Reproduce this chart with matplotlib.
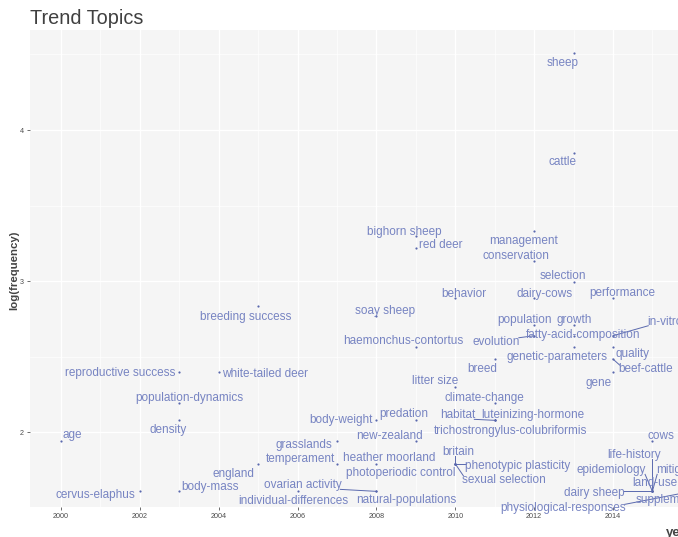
import numpy as np
import matplotlib.pyplot as plt
from matplotlib.ticker import MultipleLocator

plt.rcParams['font.family'] = ['Liberation Sans', 'DejaVu Sans']

# topic, median year, term frequency
terms = ['sheep', 'cattle', 'management', 'bighorn sheep', 'red deer', 'conservation',
         'selection', 'behavior', 'dairy-cows', 'performance', 'breeding success',
         'soay sheep', 'population', 'growth', 'evolution', 'fatty-acid-composition',
         'in-vitro', 'haemonchus-contortus', 'genetic-parameters', 'quality', 'breed',
         'beef-cattle', 'reproductive success', 'white-tailed deer', 'gene', 'litter size',
         'population-dynamics', 'climate-change', 'density', 'body-weight', 'predation',
         'habitat', 'luteinizing-hormone', 'trichostrongylus-colubriformis', 'age',
         'grasslands', 'new-zealand', 'cows', 'england', 'temperament', 'heather moorland',
         'britain', 'photoperiodic control', 'phenotypic plasticity', 'sexual selection',
         'cervus-elaphus', 'body-mass', 'individual-differences', 'ovarian activity',
         'natural-populations', 'life-history', 'epidemiology', 'mitigation', 'land-use',
         'dairy sheep', 'supplementation', 'physiological-responses']
years = [2013, 2013, 2012, 2009, 2009, 2012,
         2013, 2010, 2012, 2014, 2005,
         2008, 2012, 2013, 2012, 2013,
         2014, 2009, 2013, 2014, 2011,
         2014, 2003, 2004, 2014, 2010,
         2003, 2011, 2003, 2008, 2009,
         2011, 2011, 2011, 2000,
         2007, 2009, 2015, 2005, 2007, 2008,
         2010, 2010, 2010, 2010,
         2002, 2003, 2006, 2008,
         2008, 2015, 2015, 2015, 2015,
         2015, 2016, 2016]
freqs = [91, 47, 28, 27, 25, 23,
         20, 18, 18, 18, 17,
         16, 15, 15, 14, 14,
         14, 13, 13, 13, 12,
         12, 11, 11, 11, 10,
         9, 9, 8, 8, 8,
         8, 8, 8, 7,
         7, 7, 7, 6, 6, 6,
         6, 6, 6, 6,
         5, 5, 5, 5,
         5, 5, 5, 5, 5,
         5, 5, 5]

# label offsets from each point, in pixels (right, down)
label_offset = {
    'sheep': (-11, 9), 'cattle': (-11, 8), 'management': (-11, 9),
    'bighorn sheep': (-12, -5), 'red deer': (25, -4), 'conservation': (-18, -6),
    'selection': (-11, -7), 'behavior': (9, -5), 'dairy-cows': (10, -5),
    'performance': (9, -6), 'breeding success': (-12, 10), 'soay sheep': (9, -6),
    'population': (-10, -6), 'growth': (1, -6), 'evolution': (-38, 5),
    'fatty-acid-composition': (10, -2), 'in-vitro': (52, -15),
    'haemonchus-contortus': (-13, -7), 'genetic-parameters': (-17, 9),
    'quality': (20, 6), 'breed': (-12, 9), 'beef-cattle': (33, 9),
    'reproductive success': (-59, 0), 'white-tailed deer': (46, 1),
    'gene': (-14, 10), 'litter size': (-20, -7), 'population-dynamics': (10, -6),
    'climate-change': (-10, -6), 'density': (-11, 9), 'body-weight': (-35, -1),
    'predation': (-12, -7), 'habitat': (-37, -6), 'luteinizing-hormone': (38, -6),
    'trichostrongylus-colubriformis': (16, 10), 'age': (11, -7),
    'grasslands': (-33, 3), 'new-zealand': (-26, -6), 'cows': (9, -6),
    'england': (-25, 9), 'temperament': (-37, -6), 'heather moorland': (13, -7),
    'britain': (3, -13), 'photoperiodic control': (-55, 8),
    'phenotypic plasticity': (62, 1), 'sexual selection': (49, 15),
    'cervus-elaphus': (-44, 3), 'body-mass': (31, -5),
    'individual-differences': (-4, 9), 'ovarian activity': (-74, -7),
    'natural-populations': (30, 8), 'life-history': (-18, -37),
    'epidemiology': (-41, -22), 'mitigation': (29, -22), 'land-use': (2, -9),
    'dairy sheep': (-58, 1), 'supplementation': (-13, 8),
    'physiological-responses': (-129, 16),
}
with_segment = {'evolution', 'in-vitro', 'habitat', 'luteinizing-hormone', 'britain',
                'phenotypic plasticity', 'sexual selection', 'ovarian activity',
                'life-history', 'epidemiology', 'mitigation', 'dairy sheep',
                'physiological-responses', 'beef-cattle'}

label_col = '#7784c2'
seg_col = '#5a69ae'

W, H = 678, 537
fig = plt.figure(figsize=(W / 100, H / 100), dpi=100)
# panel runs past the right edge of the canvas
left, top, bottom, right = 30, 30, 506.7, 693
ax = fig.add_axes([left / W, 1 - bottom / H, (right - left) / W, (bottom - top) / H])
ax.set_facecolor('#f5f5f5')
for s in ax.spines.values():
    s.set_visible(False)

ax.set_xlim(1999.214, 2016.03)
ax.set_ylim(1.508, 4.662)
ax.xaxis.set_major_locator(MultipleLocator(2))
ax.xaxis.set_minor_locator(MultipleLocator(1))
ax.yaxis.set_major_locator(MultipleLocator(1))
ax.yaxis.set_minor_locator(MultipleLocator(0.5))
ax.grid(which='major', color='white', linewidth=1.0)
ax.grid(which='minor', color='white', linewidth=0.5)
ax.set_axisbelow(True)
ax.tick_params(which='major', length=2.5, width=0.6, color='#555555',
               labelsize=5.2, labelcolor='#4d4d4d', pad=2)
ax.tick_params(which='minor', length=0)
ax.xaxis.set_major_formatter(plt.FuncFormatter(lambda v, p: f'{int(v)}'))
ax.yaxis.set_major_formatter(plt.FuncFormatter(lambda v, p: f'{int(v)}'))

logf = np.log(freqs)
ax.scatter(years, logf, s=2.5, color='#5a68ad', linewidths=0, zorder=3)

texts = []
for term, yr, lf in zip(terms, years, logf):
    dx, dy = label_offset[term]
    t = ax.annotate(term, xy=(yr, lf), xytext=(dx, -dy - 1), textcoords='offset pixels',
                    ha='center', va='center', fontsize=8.5, color=label_col,
                    annotation_clip=False, zorder=4)
    texts.append((term, yr, lf, t))

# connector segments from point to nearest edge of its label
fig.canvas.draw()
renderer = fig.canvas.get_renderer()
inv = ax.transData.inverted()
for term, yr, lf, t in texts:
    if term not in with_segment:
        continue
    bb = t.get_window_extent(renderer)
    px, py = ax.transData.transform((yr, lf))
    cx = min(max(px, bb.x0 + 1), bb.x1 - 1)
    cy = min(max(py, bb.y0 + 2), bb.y1 - 2)
    (x0, y0), (x1, y1) = inv.transform([(px, py), (cx, cy)])
    ax.plot([x0, x1], [y0, y1], color=seg_col, linewidth=0.7, zorder=2, clip_on=False)

fig.text(left / W, 1 - 18 / H, 'Trend Topics', fontsize=14.3, color='#404040',
         ha='left', va='center')
fig.text(14 / W, 1 - 270 / H, 'log(frequency)', fontsize=8.2, fontweight='bold',
         color='#444444', rotation=90, ha='center', va='center')
fig.text(right / W, 1 - 533 / H, 'year', fontsize=9.5, fontweight='bold',
         color='#444444', ha='right', va='center')

fig.savefig('out.png', dpi=100)
